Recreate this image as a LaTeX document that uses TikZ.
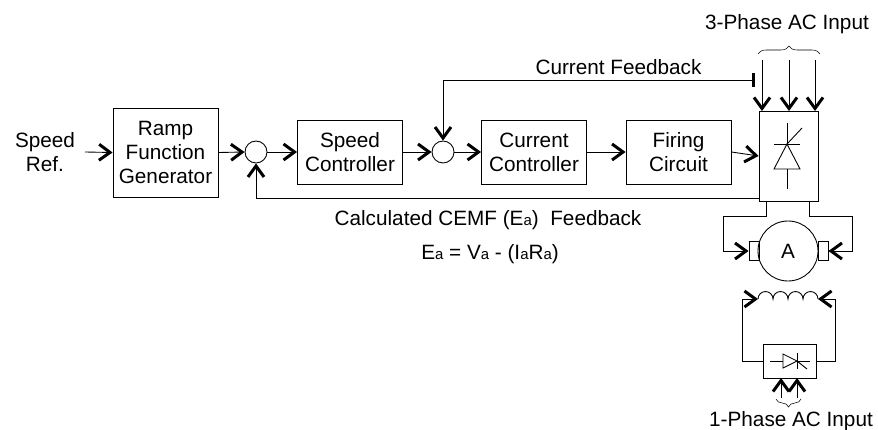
\documentclass[tikz,border=0pt]{standalone}
\usepackage{fontspec}
\setmainfont{Liberation Sans}
\usetikzlibrary{arrows.meta,decorations.pathreplacing}
\newcommand{\suba}{{\fontsize{8.5}{10}\selectfont a}}
\tikzset{
  >={Straight Barb[length=2.2mm,width=3.2mm,line width=1.7pt]},
  block/.style={draw,inner sep=0pt,align=center,minimum width=2.1cm,minimum height=1.28cm},
  sum/.style={draw,circle,inner sep=0pt,minimum size=.44cm},
  label/.style={draw=none,align=center,inner sep=0pt},
  brush/.style={draw,inner sep=0pt,minimum width=.2cm,minimum height=.38cm},
  phase/.style={decorate,decoration={brace,amplitude=.16cm},line width=.3pt}
}
\begin{document}
\begin{tikzpicture}[x=.02cm,y=-.02cm,line width=.5pt,font=\fontsize{11.8}{13.8}\selectfont]
  \useasboundingbox (0,0) rectangle (878,429);

  \node[label] (ref) at (45,152) {Speed\\Ref.};
  \coordinate (refEnd) at (85,152);
  \node[block,minimum height=1.78cm] (ramp) at (165.5,152.5) {Ramp\\Function\\Generator};
  \node[sum] (sumA) at (256,152) {};
  \node[block] (speed) at (350,152) {Speed\\Controller};
  \node[sum] (sumB) at (443,152) {};
  \node[block] (current) at (534,152) {Current\\Controller};
  \node[block] (firing) at (678.5,152) {Firing\\Circuit};
  \node[draw,inner sep=0pt,minimum width=1.18cm,minimum height=1.8cm] (conv) at (788.5,156) {};

  \draw[->] (refEnd) -- (ramp.west);
  \draw[->] (ramp.east) -- (sumA.west);
  \draw[->] (sumA.east) -- (speed.west);
  \draw[->] (speed.east) -- (sumB.west);
  \draw[->] (sumB.east) -- (current.west);
  \draw[->] (current.east) -- (firing.west);
  \draw[->] (firing.east) -- (conv.west);

  \node[label] (curLabel) at (618.5,67) {Current Feedback};
  \coordinate (curEnd) at (755,80);
  \draw[{Bar[width=2.8mm,line width=1.7pt]}->] (curEnd) -| (sumB.north);

  \coordinate (fbStart) at (759,198);
  \draw[->] (fbStart) -| (sumA.south);
  \node[label] (fbLabel) at (488,220) {Calculated CEMF (E\suba)\ \ Feedback};
  \node[label] (fbEqn) at (490,254) {E\suba\ = V\suba\ - (I\suba R\suba)};

  \node[label] (acThree) at (787,24) {3-Phase AC Input};
  \draw[phase] (758,54) -- (820,54);
  \foreach \x [count=\i] in {762,789,815} {
    \coordinate (acTop\i) at (\x,60);
    \coordinate (acEnd\i) at (\x,111);
    \draw[->] (acTop\i) -- (acEnd\i);
  }

  \draw (787,123) -- (787,144);
  \draw (774,144) -- (800,144);
  \draw (787,144) -- (802,128);
  \draw (787,144) -- (800,169) -- (774,169) -- cycle;
  \draw (787,169) -- (787,189);

  \node[draw,circle,inner sep=0pt,minimum size=1.2cm] (motor) at (788,251) {A};
  \node[brush] (brushL) at (754,251) {};
  \node[brush] (brushR) at (823,251) {};
  \coordinate (convL) at (766,201);
  \coordinate (convR) at (809,201);
  \draw[->] (convL) -- ++(0,15) -- ++(-43,0) |- (brushL.west);
  \draw[->] (convR) -- ++(0,15) -- ++(43,0) |- (brushR.east);

  \coordinate (coilL) at (758,299);
  \coordinate (coilR) at (818,299);
  \draw (coilL) foreach \i in {1,...,4} { arc[start angle=180,end angle=0,radius=.15cm] };
  \node[draw,inner sep=0pt,minimum width=1.06cm,minimum height=.68cm] (field) at (789.5,361) {};
  \draw[->] (field.west) -- ++(-20,0) |- (coilL);
  \draw[->] (field.east) -- ++(19,0) |- (coilR);

  \draw (770,361) -- (783,361);
  \draw (783,354) -- (797,361) -- (783,368) -- cycle;
  \draw (797,353) -- (797,369);
  \draw (797,361) -- (810,361);
  \draw (797,361) -- (807,369);

  \foreach \x [count=\i] in {781,797} {
    \coordinate (acLow\i) at (\x,398);
    \coordinate (acTip\i) at (\x,378);
    \draw[->] (acLow\i) -- (acTip\i);
  }
  \draw[phase] (801,399) -- (776,399);
  \node[label] (acOne) at (791,421) {1-Phase AC Input};
\end{tikzpicture}
\end{document}
